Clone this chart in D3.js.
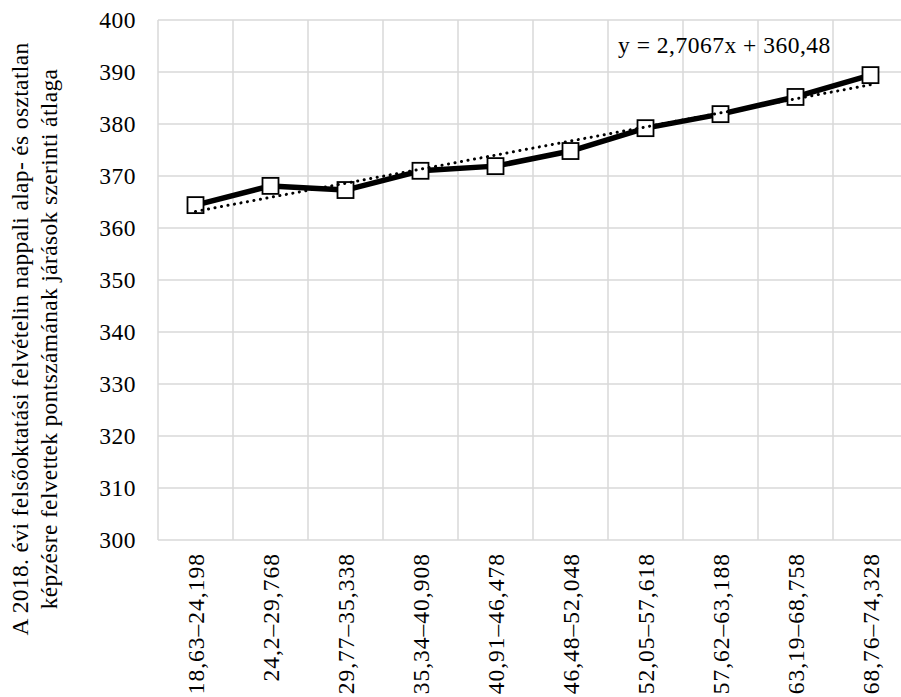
<!DOCTYPE html>
<html><head><meta charset="utf-8">
<script src="https://cdn.jsdelivr.net/npm/d3@7/dist/d3.min.js"></script>
<style>body{margin:0;background:#fff}svg{display:block}
svg text{font-family:"Liberation Serif","Times New Roman",serif;}</style>
</head><body>
<svg id="c" width="901" height="697"></svg>
<script>
const categories = ["18,63–24,198","24,2–29,768","29,77–35,338","35,34–40,908","40,91–46,478","46,48–52,048","52,05–57,618","57,62–63,188","63,19–68,758","68,76–74,328"];
const values = [364.4, 368.1, 367.3, 371.0, 371.9, 374.8, 379.2, 381.9, 385.2, 389.4];
const yTicks = [300,310,320,330,340,350,360,370,380,390,400];
const trendSlope = 2.7067, trendIntercept = 360.48;
const trendLabel = "y = 2,7067x + 360,48";
const yTitle = ["A 2018. évi felsőoktatási felvételin nappali alap- és osztatlan","képzésre felvettek pontszámának járások szerinti átlaga"];

const fs = 23.5;
const svg = d3.select("#c");
const L = 158, R = 908, T = 20, B = 540;
const x = d3.scaleBand().domain(categories).range([L, R]);
const y = d3.scaleLinear().domain([300, 400]).range([B, T]);
const grid = "#d9d9d9";

svg.append("g").selectAll("line").data(yTicks).join("line")
  .attr("x1", L).attr("x2", R).attr("y1", d => y(d)).attr("y2", d => y(d))
  .attr("stroke", grid).attr("stroke-width", 1.5);
const bounds = categories.map(c => x(c)).concat([R]);
svg.append("g").selectAll("line").data(bounds).join("line")
  .attr("x1", d => d).attr("x2", d => d).attr("y1", T).attr("y2", B)
  .attr("stroke", grid).attr("stroke-width", 1.5);

const yAxis = d3.axisLeft(y).tickValues(yTicks).tickSize(0).tickPadding(22).tickFormat(d3.format("d"));
const ya = svg.append("g").attr("transform", `translate(${L},0)`).call(yAxis);
ya.select(".domain").remove();
ya.attr("font-family", null).attr("font-size", fs);
ya.selectAll("text").attr("fill", "#000").attr("dy", "0.3em").attr("letter-spacing", 0.5);

const xAxis = d3.axisBottom(x).tickSize(0).tickPadding(0);
const xa = svg.append("g").attr("transform", `translate(0,${B})`).call(xAxis);
xa.select(".domain").remove();
xa.attr("font-family", null).attr("font-size", fs);
xa.selectAll("text").attr("fill", "#000")
  .attr("text-anchor", "end").attr("dy", null).attr("letter-spacing", 1.0)
  .attr("transform", "translate(8,13) rotate(-90)");

yTitle.forEach((t, i) => {
  svg.append("text").attr("font-size", fs).attr("fill", "#000")
    .attr("text-anchor", "middle").attr("letter-spacing", 0.35)
    .attr("transform", `translate(${28 + i * 29},339) rotate(-90)`).text(t);
});

const cx = c => x(c) + x.bandwidth() / 2;
const line = d3.line().x((d, i) => cx(categories[i])).y(d => y(d));
svg.append("path").datum(values).attr("d", line)
  .attr("fill", "none").attr("stroke", "#000").attr("stroke-width", 5.5).attr("stroke-linejoin", "round");

svg.append("g").selectAll("rect").data(values).join("rect")
  .attr("x", (d, i) => cx(categories[i]) - 8).attr("y", d => y(d) - 8)
  .attr("width", 16).attr("height", 16)
  .attr("fill", "#fff").attr("stroke", "#000").attr("stroke-width", 1.8);

const n = categories.length;
const trend = [1, n].map(k => ({c: categories[k - 1], v: trendIntercept + trendSlope * k}));
svg.append("path").datum(trend)
  .attr("d", d3.line().x(d => cx(d.c)).y(d => y(d.v)))
  .attr("fill", "none").attr("stroke", "#000").attr("stroke-width", 3)
  .attr("stroke-dasharray", "0.1 6.5").attr("stroke-linecap", "round");

svg.append("text").attr("font-size", fs).attr("fill", "#000")
  .attr("x", 618).attr("y", 53).attr("letter-spacing", 0.5).text(trendLabel);
</script>
</body></html>
